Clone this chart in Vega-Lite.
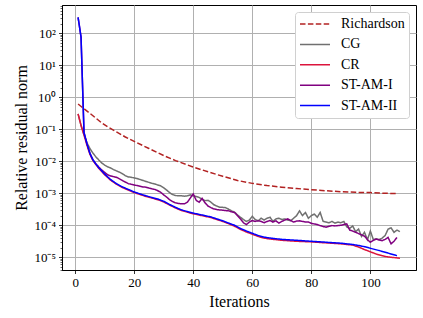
{
 "$schema": "https://vega.github.io/schema/vega-lite/v6.json",
 "width": 354, "height": 265,
 "padding": {"left": 13, "top": 0, "right": 8, "bottom": 5},
 "background": "white",
 "config": {
  "font": "Liberation Serif",
  "view": {"stroke": "black", "strokeWidth": 1},
  "axis": {"domainColor": "black", "tickColor": "black", "labelColor": "black", "titleColor": "black", "tickSize": 3.5, "tickWidth": 0.8, "labelPadding": 3, "labelFont": "Liberation Serif", "titleFont": "Liberation Serif", "labelFontSize": 13, "titleFontSize": 16, "titleFontWeight": "normal", "grid": true, "gridColor": "#b0b0b0", "gridWidth": 1, "gridOpacity": 1},
  "legend": {"labelFontSize": 14, "labelColor": "black", "labelFont": "Liberation Serif"}
 },
 "data": {"values": [
  {"m":"Richardson","i":1,"r":6.17e-1},{"m":"Richardson","i":3,"r":4.37e-1},{"m":"Richardson","i":5,"r":3.16e-1},{"m":"Richardson","i":7,"r":2.24e-1},{"m":"Richardson","i":9,"r":1.58e-1},{"m":"Richardson","i":11,"r":1.20e-1},{"m":"Richardson","i":14,"r":8.32e-2},{"m":"Richardson","i":17,"r":5.75e-2},{"m":"Richardson","i":20,"r":4.17e-2},{"m":"Richardson","i":25,"r":2.51e-2},{"m":"Richardson","i":30,"r":1.51e-2},{"m":"Richardson","i":34,"r":1.05e-2},{"m":"Richardson","i":40,"r":6.61e-3},{"m":"Richardson","i":45,"r":4.68e-3},{"m":"Richardson","i":50,"r":3.39e-3},{"m":"Richardson","i":55,"r":2.51e-3},{"m":"Richardson","i":60,"r":2.04e-3},{"m":"Richardson","i":65,"r":1.74e-3},{"m":"Richardson","i":70,"r":1.55e-3},{"m":"Richardson","i":75,"r":1.41e-3},{"m":"Richardson","i":80,"r":1.29e-3},{"m":"Richardson","i":85,"r":1.20e-3},{"m":"Richardson","i":90,"r":1.12e-3},{"m":"Richardson","i":95,"r":1.07e-3},{"m":"Richardson","i":100,"r":1.05e-3},{"m":"Richardson","i":105,"r":1.00e-3},{"m":"Richardson","i":109,"r":9.77e-4},

  {"m":"CG","i":1,"r":3.02e-1},{"m":"CG","i":2,"r":1.32e-1},{"m":"CG","i":3,"r":6.92e-2},{"m":"CG","i":4,"r":3.80e-2},{"m":"CG","i":5,"r":2.51e-2},{"m":"CG","i":6,"r":1.82e-2},{"m":"CG","i":7,"r":1.38e-2},{"m":"CG","i":8,"r":1.10e-2},{"m":"CG","i":9,"r":8.91e-3},{"m":"CG","i":10,"r":7.59e-3},
  {"m":"CG","i":11,"r":6.76e-3},{"m":"CG","i":12,"r":6.17e-3},{"m":"CG","i":13,"r":5.50e-3},{"m":"CG","i":14,"r":5.01e-3},{"m":"CG","i":15,"r":4.57e-3},{"m":"CG","i":16,"r":4.07e-3},{"m":"CG","i":17,"r":3.55e-3},{"m":"CG","i":18,"r":3.24e-3},{"m":"CG","i":19,"r":3.16e-3},{"m":"CG","i":20,"r":3.02e-3},
  {"m":"CG","i":21,"r":2.88e-3},{"m":"CG","i":22,"r":2.69e-3},{"m":"CG","i":23,"r":2.51e-3},{"m":"CG","i":24,"r":2.34e-3},{"m":"CG","i":25,"r":2.19e-3},{"m":"CG","i":26,"r":2.04e-3},{"m":"CG","i":27,"r":1.95e-3},{"m":"CG","i":28,"r":1.82e-3},{"m":"CG","i":29,"r":1.70e-3},{"m":"CG","i":30,"r":1.48e-3},
  {"m":"CG","i":31,"r":1.26e-3},{"m":"CG","i":32,"r":1.05e-3},{"m":"CG","i":33,"r":9.12e-4},{"m":"CG","i":34,"r":8.51e-4},{"m":"CG","i":35,"r":8.32e-4},{"m":"CG","i":36,"r":8.32e-4},{"m":"CG","i":37,"r":8.13e-4},{"m":"CG","i":38,"r":8.32e-4},{"m":"CG","i":39,"r":8.91e-4},{"m":"CG","i":40,"r":8.32e-4},
  {"m":"CG","i":41,"r":7.94e-4},{"m":"CG","i":42,"r":7.41e-4},{"m":"CG","i":43,"r":6.46e-4},{"m":"CG","i":44,"r":5.89e-4},{"m":"CG","i":45,"r":6.03e-4},{"m":"CG","i":46,"r":5.25e-4},{"m":"CG","i":47,"r":4.37e-4},{"m":"CG","i":48,"r":3.98e-4},{"m":"CG","i":49,"r":3.63e-4},{"m":"CG","i":50,"r":3.63e-4},
  {"m":"CG","i":51,"r":3.55e-4},{"m":"CG","i":52,"r":3.16e-4},{"m":"CG","i":53,"r":2.82e-4},{"m":"CG","i":54,"r":2.57e-4},{"m":"CG","i":55,"r":2.09e-4},{"m":"CG","i":56,"r":1.78e-4},{"m":"CG","i":57,"r":1.51e-4},{"m":"CG","i":58,"r":1.32e-4},{"m":"CG","i":59,"r":1.45e-4},{"m":"CG","i":60,"r":1.91e-4},
  {"m":"CG","i":61,"r":1.51e-4},{"m":"CG","i":62,"r":1.38e-4},{"m":"CG","i":63,"r":1.66e-4},{"m":"CG","i":64,"r":1.45e-4},{"m":"CG","i":65,"r":1.66e-4},{"m":"CG","i":66,"r":1.78e-4},{"m":"CG","i":67,"r":1.32e-4},{"m":"CG","i":68,"r":1.58e-4},{"m":"CG","i":69,"r":1.66e-4},{"m":"CG","i":70,"r":1.51e-4},
  {"m":"CG","i":71,"r":1.58e-4},{"m":"CG","i":72,"r":1.45e-4},{"m":"CG","i":73,"r":1.38e-4},{"m":"CG","i":74,"r":1.66e-4},{"m":"CG","i":75,"r":2.00e-4},{"m":"CG","i":76,"r":2.82e-4},{"m":"CG","i":77,"r":2.00e-4},{"m":"CG","i":78,"r":2.51e-4},{"m":"CG","i":79,"r":1.66e-4},{"m":"CG","i":80,"r":2.00e-4},
  {"m":"CG","i":81,"r":2.24e-4},{"m":"CG","i":82,"r":1.78e-4},{"m":"CG","i":83,"r":2.51e-4},{"m":"CG","i":84,"r":1.32e-4},{"m":"CG","i":85,"r":1.26e-4},{"m":"CG","i":86,"r":1.20e-4},{"m":"CG","i":87,"r":1.32e-4},{"m":"CG","i":88,"r":1.17e-4},{"m":"CG","i":89,"r":1.26e-4},{"m":"CG","i":90,"r":1.20e-4},
  {"m":"CG","i":91,"r":1.32e-4},{"m":"CG","i":92,"r":8.91e-5},{"m":"CG","i":93,"r":7.94e-5},{"m":"CG","i":94,"r":9.55e-5},{"m":"CG","i":95,"r":6.31e-5},{"m":"CG","i":96,"r":7.59e-5},{"m":"CG","i":97,"r":4.47e-5},{"m":"CG","i":98,"r":6.03e-5},{"m":"CG","i":99,"r":3.55e-5},{"m":"CG","i":100,"r":6.61e-5},
  {"m":"CG","i":101,"r":3.55e-5},{"m":"CG","i":102,"r":3.80e-5},{"m":"CG","i":103,"r":3.55e-5},{"m":"CG","i":104,"r":3.98e-5},{"m":"CG","i":105,"r":4.79e-5},{"m":"CG","i":106,"r":7.59e-5},{"m":"CG","i":107,"r":8.32e-5},{"m":"CG","i":108,"r":6.03e-5},{"m":"CG","i":109,"r":7.08e-5},{"m":"CG","i":110,"r":6.31e-5},

  {"m":"CR","i":1,"r":3.02e-1},{"m":"CR","i":2,"r":1.32e-1},{"m":"CR","i":3,"r":6.61e-2},{"m":"CR","i":4,"r":3.16e-2},{"m":"CR","i":5,"r":1.66e-2},{"m":"CR","i":6,"r":1.07e-2},{"m":"CR","i":7,"r":7.94e-3},{"m":"CR","i":8,"r":6.03e-3},{"m":"CR","i":9,"r":4.79e-3},{"m":"CR","i":10,"r":3.80e-3},
  {"m":"CR","i":12,"r":2.57e-3},{"m":"CR","i":14,"r":1.91e-3},{"m":"CR","i":16,"r":1.51e-3},{"m":"CR","i":18,"r":1.26e-3},{"m":"CR","i":20,"r":1.05e-3},{"m":"CR","i":22,"r":9.12e-4},{"m":"CR","i":24,"r":7.94e-4},{"m":"CR","i":26,"r":7.08e-4},{"m":"CR","i":28,"r":6.31e-4},{"m":"CR","i":30,"r":5.37e-4},
  {"m":"CR","i":32,"r":4.27e-4},{"m":"CR","i":34,"r":3.47e-4},{"m":"CR","i":36,"r":2.88e-4},{"m":"CR","i":38,"r":2.57e-4},{"m":"CR","i":40,"r":2.29e-4},{"m":"CR","i":42,"r":2.09e-4},{"m":"CR","i":44,"r":1.91e-4},{"m":"CR","i":46,"r":1.74e-4},{"m":"CR","i":48,"r":1.51e-4},{"m":"CR","i":50,"r":1.32e-4},
  {"m":"CR","i":52,"r":1.12e-4},{"m":"CR","i":54,"r":9.33e-5},{"m":"CR","i":56,"r":7.41e-5},{"m":"CR","i":58,"r":6.17e-5},{"m":"CR","i":60,"r":5.25e-5},{"m":"CR","i":62,"r":4.47e-5},{"m":"CR","i":64,"r":3.98e-5},{"m":"CR","i":66,"r":3.72e-5},{"m":"CR","i":70,"r":3.39e-5},{"m":"CR","i":75,"r":3.16e-5},
  {"m":"CR","i":80,"r":3.02e-5},{"m":"CR","i":85,"r":2.82e-5},{"m":"CR","i":90,"r":2.63e-5},{"m":"CR","i":94,"r":2.40e-5},{"m":"CR","i":96,"r":2.09e-5},{"m":"CR","i":98,"r":1.74e-5},{"m":"CR","i":100,"r":1.48e-5},{"m":"CR","i":102,"r":1.26e-5},{"m":"CR","i":104,"r":1.12e-5},{"m":"CR","i":106,"r":1.02e-5},{"m":"CR","i":108,"r":9.77e-6},{"m":"CR","i":110,"r":9.33e-6},

  {"m":"ST-AM-I","i":1,"r":316},{"m":"ST-AM-I","i":2,"r":75.9},{"m":"ST-AM-I","i":3,"r":7.94e-2},{"m":"ST-AM-I","i":4,"r":3.55e-2},{"m":"ST-AM-I","i":5,"r":1.78e-2},{"m":"ST-AM-I","i":6,"r":1.12e-2},{"m":"ST-AM-I","i":7,"r":8.32e-3},{"m":"ST-AM-I","i":8,"r":6.61e-3},{"m":"ST-AM-I","i":9,"r":5.37e-3},{"m":"ST-AM-I","i":10,"r":4.47e-3},
  {"m":"ST-AM-I","i":11,"r":3.80e-3},{"m":"ST-AM-I","i":12,"r":3.47e-3},{"m":"ST-AM-I","i":13,"r":3.31e-3},{"m":"ST-AM-I","i":14,"r":3.16e-3},{"m":"ST-AM-I","i":15,"r":2.82e-3},{"m":"ST-AM-I","i":16,"r":2.51e-3},{"m":"ST-AM-I","i":17,"r":2.24e-3},{"m":"ST-AM-I","i":18,"r":2.00e-3},{"m":"ST-AM-I","i":19,"r":1.91e-3},{"m":"ST-AM-I","i":20,"r":1.82e-3},
  {"m":"ST-AM-I","i":21,"r":1.74e-3},{"m":"ST-AM-I","i":22,"r":1.66e-3},{"m":"ST-AM-I","i":23,"r":1.58e-3},{"m":"ST-AM-I","i":24,"r":1.55e-3},{"m":"ST-AM-I","i":25,"r":1.45e-3},{"m":"ST-AM-I","i":26,"r":1.38e-3},{"m":"ST-AM-I","i":27,"r":1.32e-3},{"m":"ST-AM-I","i":28,"r":1.20e-3},{"m":"ST-AM-I","i":29,"r":1.07e-3},{"m":"ST-AM-I","i":30,"r":8.91e-4},
  {"m":"ST-AM-I","i":31,"r":7.59e-4},{"m":"ST-AM-I","i":32,"r":6.31e-4},{"m":"ST-AM-I","i":33,"r":5.50e-4},{"m":"ST-AM-I","i":34,"r":5.01e-4},{"m":"ST-AM-I","i":35,"r":4.79e-4},{"m":"ST-AM-I","i":36,"r":4.68e-4},{"m":"ST-AM-I","i":37,"r":4.68e-4},{"m":"ST-AM-I","i":38,"r":5.25e-4},{"m":"ST-AM-I","i":39,"r":7.08e-4},{"m":"ST-AM-I","i":40,"r":9.55e-4},
  {"m":"ST-AM-I","i":41,"r":6.03e-4},{"m":"ST-AM-I","i":42,"r":5.25e-4},{"m":"ST-AM-I","i":43,"r":6.92e-4},{"m":"ST-AM-I","i":44,"r":5.01e-4},{"m":"ST-AM-I","i":45,"r":3.98e-4},{"m":"ST-AM-I","i":46,"r":3.55e-4},{"m":"ST-AM-I","i":47,"r":3.24e-4},{"m":"ST-AM-I","i":48,"r":3.09e-4},{"m":"ST-AM-I","i":49,"r":3.02e-4},{"m":"ST-AM-I","i":50,"r":2.95e-4},
  {"m":"ST-AM-I","i":51,"r":2.88e-4},{"m":"ST-AM-I","i":52,"r":2.82e-4},{"m":"ST-AM-I","i":53,"r":2.63e-4},{"m":"ST-AM-I","i":54,"r":2.51e-4},{"m":"ST-AM-I","i":55,"r":2.00e-4},{"m":"ST-AM-I","i":56,"r":1.58e-4},{"m":"ST-AM-I","i":57,"r":1.20e-4},{"m":"ST-AM-I","i":58,"r":1.05e-4},{"m":"ST-AM-I","i":59,"r":1.26e-4},{"m":"ST-AM-I","i":60,"r":1.41e-4},
  {"m":"ST-AM-I","i":61,"r":1.32e-4},{"m":"ST-AM-I","i":62,"r":1.38e-4},{"m":"ST-AM-I","i":63,"r":1.32e-4},{"m":"ST-AM-I","i":64,"r":1.20e-4},{"m":"ST-AM-I","i":65,"r":1.32e-4},{"m":"ST-AM-I","i":66,"r":1.41e-4},{"m":"ST-AM-I","i":67,"r":1.26e-4},{"m":"ST-AM-I","i":68,"r":1.38e-4},{"m":"ST-AM-I","i":69,"r":1.17e-4},{"m":"ST-AM-I","i":70,"r":1.32e-4},
  {"m":"ST-AM-I","i":71,"r":1.45e-4},{"m":"ST-AM-I","i":72,"r":1.58e-4},{"m":"ST-AM-I","i":73,"r":1.41e-4},{"m":"ST-AM-I","i":74,"r":1.26e-4},{"m":"ST-AM-I","i":75,"r":1.35e-4},{"m":"ST-AM-I","i":76,"r":1.38e-4},{"m":"ST-AM-I","i":77,"r":1.32e-4},{"m":"ST-AM-I","i":78,"r":1.26e-4},{"m":"ST-AM-I","i":79,"r":1.26e-4},{"m":"ST-AM-I","i":80,"r":1.15e-4},
  {"m":"ST-AM-I","i":81,"r":1.10e-4},{"m":"ST-AM-I","i":82,"r":1.05e-4},{"m":"ST-AM-I","i":83,"r":9.77e-5},{"m":"ST-AM-I","i":84,"r":9.12e-5},{"m":"ST-AM-I","i":85,"r":8.71e-5},{"m":"ST-AM-I","i":86,"r":9.33e-5},{"m":"ST-AM-I","i":87,"r":9.77e-5},{"m":"ST-AM-I","i":88,"r":9.55e-5},{"m":"ST-AM-I","i":89,"r":9.77e-5},{"m":"ST-AM-I","i":90,"r":1.00e-4},
  {"m":"ST-AM-I","i":91,"r":1.05e-4},{"m":"ST-AM-I","i":92,"r":1.10e-4},{"m":"ST-AM-I","i":93,"r":7.08e-5},{"m":"ST-AM-I","i":94,"r":6.61e-5},{"m":"ST-AM-I","i":95,"r":6.03e-5},{"m":"ST-AM-I","i":96,"r":5.50e-5},{"m":"ST-AM-I","i":97,"r":5.01e-5},{"m":"ST-AM-I","i":98,"r":4.57e-5},{"m":"ST-AM-I","i":99,"r":3.55e-5},{"m":"ST-AM-I","i":100,"r":2.95e-5},
  {"m":"ST-AM-I","i":101,"r":3.39e-5},{"m":"ST-AM-I","i":102,"r":3.72e-5},{"m":"ST-AM-I","i":103,"r":3.47e-5},{"m":"ST-AM-I","i":104,"r":3.31e-5},{"m":"ST-AM-I","i":105,"r":3.63e-5},{"m":"ST-AM-I","i":106,"r":4.17e-5},{"m":"ST-AM-I","i":107,"r":2.63e-5},{"m":"ST-AM-I","i":108,"r":3.16e-5},{"m":"ST-AM-I","i":109,"r":4.17e-5},

  {"m":"ST-AM-II","i":1,"r":316},{"m":"ST-AM-II","i":2,"r":75.9},{"m":"ST-AM-II","i":3,"r":7.94e-2},{"m":"ST-AM-II","i":4,"r":3.55e-2},{"m":"ST-AM-II","i":5,"r":1.78e-2},{"m":"ST-AM-II","i":6,"r":1.12e-2},{"m":"ST-AM-II","i":7,"r":8.32e-3},{"m":"ST-AM-II","i":8,"r":6.31e-3},{"m":"ST-AM-II","i":9,"r":5.01e-3},{"m":"ST-AM-II","i":10,"r":3.98e-3},
  {"m":"ST-AM-II","i":12,"r":2.69e-3},{"m":"ST-AM-II","i":14,"r":2.00e-3},{"m":"ST-AM-II","i":16,"r":1.58e-3},{"m":"ST-AM-II","i":18,"r":1.32e-3},{"m":"ST-AM-II","i":20,"r":1.10e-3},{"m":"ST-AM-II","i":22,"r":9.55e-4},{"m":"ST-AM-II","i":24,"r":8.32e-4},{"m":"ST-AM-II","i":26,"r":7.41e-4},{"m":"ST-AM-II","i":28,"r":6.61e-4},{"m":"ST-AM-II","i":30,"r":5.62e-4},
  {"m":"ST-AM-II","i":32,"r":4.47e-4},{"m":"ST-AM-II","i":34,"r":3.63e-4},{"m":"ST-AM-II","i":36,"r":3.02e-4},{"m":"ST-AM-II","i":38,"r":2.69e-4},{"m":"ST-AM-II","i":40,"r":2.40e-4},{"m":"ST-AM-II","i":42,"r":2.19e-4},{"m":"ST-AM-II","i":44,"r":2.00e-4},{"m":"ST-AM-II","i":46,"r":1.82e-4},{"m":"ST-AM-II","i":48,"r":1.58e-4},{"m":"ST-AM-II","i":50,"r":1.38e-4},
  {"m":"ST-AM-II","i":52,"r":1.17e-4},{"m":"ST-AM-II","i":54,"r":1.00e-4},{"m":"ST-AM-II","i":56,"r":7.94e-5},{"m":"ST-AM-II","i":58,"r":6.61e-5},{"m":"ST-AM-II","i":60,"r":5.62e-5},{"m":"ST-AM-II","i":62,"r":4.79e-5},{"m":"ST-AM-II","i":64,"r":4.27e-5},{"m":"ST-AM-II","i":66,"r":3.98e-5},{"m":"ST-AM-II","i":70,"r":3.63e-5},{"m":"ST-AM-II","i":75,"r":3.39e-5},
  {"m":"ST-AM-II","i":80,"r":3.16e-5},{"m":"ST-AM-II","i":85,"r":2.95e-5},{"m":"ST-AM-II","i":90,"r":2.75e-5},{"m":"ST-AM-II","i":94,"r":2.51e-5},{"m":"ST-AM-II","i":96,"r":2.34e-5},{"m":"ST-AM-II","i":98,"r":2.14e-5},{"m":"ST-AM-II","i":100,"r":1.91e-5},{"m":"ST-AM-II","i":103,"r":1.62e-5},{"m":"ST-AM-II","i":106,"r":1.35e-5},{"m":"ST-AM-II","i":109,"r":1.12e-5}
 ]},
 "mark": {"type": "line", "strokeWidth": 1.5, "clip": true},
 "encoding": {
  "x": {"field": "i", "type": "quantitative", "scale": {"domain": [-4.45, 115.45], "nice": false, "zero": false},
        "axis": {"values": [0, 20, 40, 60, 80, 100], "title": "Iterations", "grid": true, "gridColor": "#b0b0b0", "gridOpacity": 1, "titlePadding": 4}},
  "y": {"field": "r", "type": "quantitative", "scale": {"type": "log", "domain": [4e-6, 766], "nice": false},
        "axis": {"values": [4e-6,5e-6,6e-6,7e-6,8e-6,9e-6,1e-5,2e-5,3e-5,4e-5,5e-5,6e-5,7e-5,8e-5,9e-5,1e-4,2e-4,3e-4,4e-4,5e-4,6e-4,7e-4,8e-4,9e-4,1e-3,2e-3,3e-3,4e-3,5e-3,6e-3,7e-3,8e-3,9e-3,1e-2,2e-2,3e-2,4e-2,5e-2,6e-2,7e-2,8e-2,9e-2,0.1,0.2,0.3,0.4,0.5,0.6,0.7,0.8,0.9,1,2,3,4,5,6,7,8,9,10,20,30,40,50,60,70,80,90,100,200,300,400,500,600,700],
                 "grid": true, "title": "Relative residual norm", "labelOverlap": false,
                 "gridColor": "#b0b0b0",
                 "gridOpacity": {"condition": {"test": "abs(log(datum.value)/LN10 - round(log(datum.value)/LN10)) < 0.01", "value": 1}, "value": 0},
                 "tickSize": {"condition": {"test": "abs(log(datum.value)/LN10 - round(log(datum.value)/LN10)) < 0.01", "value": 3.5}, "value": 2},
                 "tickWidth": {"condition": {"test": "abs(log(datum.value)/LN10 - round(log(datum.value)/LN10)) < 0.01", "value": 0.8}, "value": 0.6},
                 "labelExpr": "abs(log(datum.value)/LN10 - round(log(datum.value)/LN10)) < 0.01 ? '10' + (datum.value < 0.5 ? '⁻' : '') + ['⁰','¹','²','³','⁴','⁵','⁶','⁷','⁸','⁹'][abs(round(log(datum.value)/LN10))] : ''"}},
  "color": {"field": "m", "type": "nominal",
            "scale": {"domain": ["Richardson", "CG", "CR", "ST-AM-I", "ST-AM-II"], "range": ["#b22222", "#707070", "#dc143c", "#800080", "#0000ff"]},
            "legend": {"title": null, "orient": "top-right", "offset": 7, "fillColor": "white", "strokeColor": "#d0d0d0", "cornerRadius": 3, "padding": 4, "symbolType": "stroke", "symbolSize": 900, "symbolStrokeWidth": 1.5, "labelOffset": 10, "clipHeight": 16, "rowPadding": 4.4}},
  "strokeDash": {"field": "m", "type": "nominal",
            "scale": {"domain": ["Richardson", "CG", "CR", "ST-AM-I", "ST-AM-II"], "range": [[5.5, 2.4], [1, 0], [1, 0], [1, 0], [1, 0]]},
            "legend": {"title": null, "orient": "top-right", "offset": 7, "fillColor": "white", "strokeColor": "#d0d0d0", "cornerRadius": 3, "padding": 4, "symbolType": "stroke", "symbolSize": 900, "symbolStrokeWidth": 1.5, "labelOffset": 10, "clipHeight": 16, "rowPadding": 4.4}}
 }
}
